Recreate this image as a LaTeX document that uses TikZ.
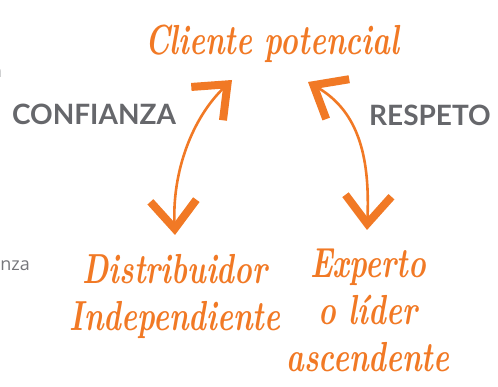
\documentclass[tikz,border=0pt]{standalone}
\usepackage{fontspec}
\newfontfamily\valorfont{Lato}
\newfontfamily\cuerpofont{Open Sans}
\usetikzlibrary{arrows.meta}
\definecolor{naranja}{RGB}{241,121,37}
\definecolor{gris}{RGB}{102,103,107}

\begin{document}
\begin{tikzpicture}[
        x=1pt, y=1pt,
        script/.style={text=naranja, font=\fontsize{30}{33.5}\selectfont\bfseries\itshape, align=center, inner sep=0pt, yscale=1.4, transform shape}, % Brush text
        valor/.style={text=gris, font=\valorfont\bfseries\fontsize{28}{30}\selectfont, inner sep=0pt, anchor=base}, % Value labels
        cuerpo/.style={text=gris!90, font=\cuerpofont\fontsize{18}{20}\selectfont, inner sep=0pt, anchor=base east}, % Cut text
        vinculo/.style={draw=naranja, line width=2.6pt, <->,
            >={Straight Barb[length=28pt, width=46pt, line width=8pt]}} % Arrow styling
        ]
        \useasboundingbox (0,0) rectangle (498,-387);

        % Define nodes
        \node (cliente) [script, anchor=base] at (272,-55) {Cliente potencial};
        \node (distribuidor) [script, anchor=north] at (175,-254) {Distribuidor \\ Independiente};
        \node (experto) [script, anchor=north] at (368,-249) {Experto \\ o líder \\ ascendente};
        \node (confianza) [valor] at (94,-125) {CONFIANZA};
        \node (respeto) [valor] at (430,-126) {RESPETO};
        \node (cortado1) [cuerpo] at (2,-78) {n};
        \node (cortado2) [cuerpo] at (30,-271) {nza};

        % Arrow ends
        \coordinate (confianzaArriba) at (232,-80);
        \coordinate (confianzaAbajo) at (175,-235);
        \coordinate (respetoArriba) at (308,-82);
        \coordinate (respetoAbajo) at (367,-230);

        % Draw arrows
        \draw[vinculo] (confianzaAbajo) .. controls (172,-172) and (192,-118) .. (confianzaArriba);
        \draw[vinculo] (respetoAbajo) .. controls (370,-160) and (360,-112) .. (respetoArriba);

    \end{tikzpicture}
\end{document}
